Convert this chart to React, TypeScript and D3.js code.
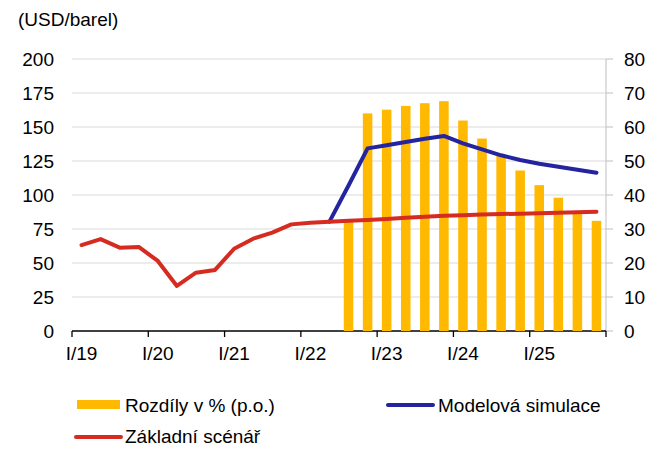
import React from "react";
import * as d3 from "d3";

const quarters: string[] = [];
["19", "20", "21", "22", "23", "24", "25"].forEach((y) =>
  ["I", "II", "III", "IV"].forEach((q) => quarters.push(`${q}/${y}`))
);

const yearLabels = ["I/19", "I/20", "I/21", "I/22", "I/23", "I/24", "I/25"];

const baseline: number[] = [
  63.2, 67.6, 61.3, 61.8, 51.5, 33.1, 42.9, 44.9, 60.5, 67.9, 72.3, 78.4, 79.6,
  80.4, 81.0, 81.6, 82.4, 83.2, 84.0, 84.8, 85.2, 85.6, 86.0, 86.3, 86.6, 87.0,
  87.3, 87.7,
];

const simulation: (number | null)[] = [
  null, null, null, null, null, null, null, null, null, null, null, null, null,
  80.4, 107.0, 134.3, 136.6, 139.0, 141.3, 143.4, 138.0, 133.6, 129.2, 125.7,
  123.0, 120.8, 118.6, 116.4,
];

const diffPct: (number | null)[] = [
  null, null, null, null, null, null, null, null, null, null, null, null, null,
  null, 32.1, 64.0, 65.1, 66.2, 67.0, 67.6, 61.9, 56.6, 51.7, 47.2, 42.9, 39.2,
  34.6, 32.4,
];

const leftTicks = [0, 25, 50, 75, 100, 125, 150, 175, 200];
const rightTicks = [0, 10, 20, 30, 40, 50, 60, 70, 80];

const W = 670;
const H = 466;
const L = 72;
const R = 606;
const T = 59;
const B = 331;

const FONT = "'Liberation Sans', Arial, sans-serif";
const FS = 19;
const ORANGE = "#FFB900";
const RED = "#D62B20";
const BLUE = "#2424A0";

export default function App() {
  const x = d3
    .scaleBand<string>()
    .domain(quarters)
    .range([L, R])
    .paddingInner(0.5)
    .paddingOuter(0.25);
  const step = x.step();
  const cx = (i: number) => (x(quarters[i]) as number) + x.bandwidth() / 2;
  const yL = d3.scaleLinear().domain([0, 200]).range([B, T]);
  const yR = d3.scaleLinear().domain([0, 80]).range([B, T]);

  const redLine = d3
    .line<number>()
    .x((_, i) => cx(i))
    .y((d) => yL(d));

  const bluePts = simulation
    .map((v, i) => ({ v, i }))
    .filter((p) => p.v !== null) as { v: number; i: number }[];
  const blueLine = d3
    .line<{ v: number; i: number }>()
    .x((p) => cx(p.i))
    .y((p) => yL(p.v));

  const yearTickX = d3.range(0, quarters.length + 1, 4).map((k) => L + k * step);

  return (
    <svg
      width={W}
      height={H}
      style={{ position: "absolute", left: 0, top: 0, display: "block" }}
      fontFamily={FONT}
      fontSize={FS}
    >
      <rect width={W} height={H} fill="#fff" />
      <text x={18} y={25.5} fill="#000">
        (USD/barel)
      </text>

      {leftTicks
        .filter((t) => t > 0)
        .map((t) => (
          <line key={t} x1={L} x2={R} y1={yL(t)} y2={yL(t)} stroke="#d9d9d9" strokeWidth={1} />
        ))}
      {leftTicks.map((t) => (
        <text key={t} x={54} y={yL(t) + 6.8} textAnchor="end" fill="#000">
          {t}
        </text>
      ))}

      <line x1={R} x2={R} y1={T} y2={B} stroke="#bfbfbf" strokeWidth={1} />
      {rightTicks.map((t) => (
        <g key={t}>
          <line x1={R} x2={R + 7} y1={yR(t)} y2={yR(t)} stroke="#bfbfbf" strokeWidth={1} />
          <text x={624} y={yR(t) + 6.8} fill="#000">
            {t}
          </text>
        </g>
      ))}

      <line x1={L} x2={R} y1={B} y2={B} stroke="#000" strokeWidth={1.3} />
      {yearTickX.map((tx, i) => (
        <line key={i} x1={tx} x2={tx} y1={B} y2={B + 6} stroke="#000" strokeWidth={1.3} />
      ))}
      {yearLabels.map((lab, i) => (
        <text key={lab} x={cx(i * 4)} y={360} textAnchor="middle" fill="#000">
          {lab}
        </text>
      ))}

      {diffPct.map((v, i) =>
        v === null ? null : (
          <rect
            key={i}
            x={x(quarters[i])}
            y={yR(v)}
            width={x.bandwidth()}
            height={B - yR(v)}
            fill={ORANGE}
          />
        )
      )}

      <path
        d={blueLine(bluePts) || ""}
        fill="none"
        stroke={BLUE}
        strokeWidth={4}
        strokeLinejoin="round"
        strokeLinecap="round"
      />
      <path
        d={redLine(baseline) || ""}
        fill="none"
        stroke={RED}
        strokeWidth={4}
        strokeLinejoin="round"
        strokeLinecap="round"
      />

      <rect x={77} y={400} width={43} height={9} fill={ORANGE} />
      <text x={125} y={411.5} fill="#000">
        Rozdíly v % (p.o.)
      </text>
      <line x1={388} x2={433} y1={405} y2={405} stroke={BLUE} strokeWidth={4} strokeLinecap="round" />
      <text x={438} y={411.5} fill="#000">
        Modelová simulace
      </text>
      <line x1={76} x2={121} y1={437} y2={437} stroke={RED} strokeWidth={4} strokeLinecap="round" />
      <text x={125} y={443} fill="#000">
        Základní scénář
      </text>
    </svg>
  );
}
